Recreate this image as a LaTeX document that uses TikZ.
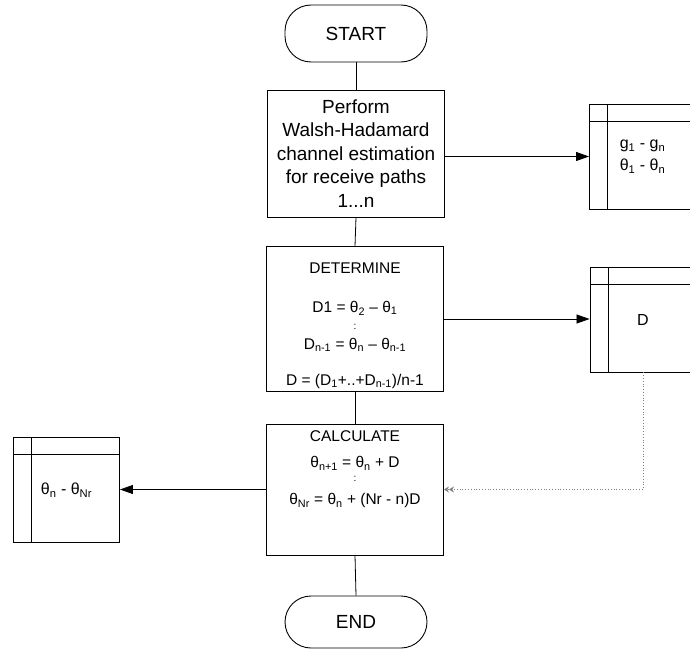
\documentclass[tikz,border=0pt]{standalone}
\usepackage{fontspec}
\setmainfont{Liberation Sans}
\usetikzlibrary{arrows.meta}
\newcommand{\lo}[1]{\textsubscript{#1}}
\newcommand{\vdotsmall}{{\fontsize{10}{12}\selectfont :}}

\begin{document}
\begin{tikzpicture}[
  x=1pt, y=-1pt,
  term/.style={draw, line width=0.9pt, rounded corners=26pt, minimum width=142pt,
               font=\fontsize{19}{23}\selectfont},
  proc/.style={draw, line width=0.9pt, minimum width=177pt, align=center, inner sep=3pt},
  store/.style={draw, line width=0.9pt, minimum width=106pt, minimum height=105pt,
                align=left, font=\fontsize{16}{22}\selectfont,
                path picture={
                  \draw[line width=0.9pt] ([xshift=18pt]path picture bounding box.north west)
                    -- ([xshift=18pt]path picture bounding box.south west);
                  \draw[line width=0.9pt] ([yshift=-17pt]path picture bounding box.north west)
                    -- ([yshift=-17pt]path picture bounding box.north east);}},
  link/.style={line width=0.8pt},
  flow/.style={-{Triangle[length=13pt, width=9pt]}, line width=0.8pt},
  feed/.style={-{Stealth[length=5pt, width=6pt]Stealth[length=5pt, width=6pt]},
               line width=0.8pt, draw=gray, dotted},
]
\useasboundingbox (0,0) rectangle (690,650);

% Terminals
\node[term, minimum height=57pt] (start) at (356,33.5) {START};
\node[term, minimum height=52pt] (end) at (356,622) {END};

% Process boxes
\node[proc, minimum height=127pt, font=\fontsize{19}{23.5}\selectfont] (est) at (356,153.5)
  {Perform\\ Walsh-Hadamard\\ channel estimation\\ for receive paths\\ 1...n};
\node[proc, minimum height=132pt, font=\fontsize{15.5}{18}\selectfont] (det) at (355,319)
  {\rule{0pt}{24pt}DETERMINE\\[21pt]
   D1 = θ\lo{2} – θ\lo{1}\\[-1pt]
   \vdotsmall\\[2pt]
   D\lo{n-1} = θ\lo{n} – θ\lo{n-1}\\[18pt]
   D = (D\lo{1}+..+D\lo{n-1})/n-1};
\node[proc, minimum height=131pt, font=\fontsize{15.5}{18}\selectfont] (calc) at (355,489.5)
  {CALCULATE\\[8pt]
   θ\lo{n+1} = θ\lo{n} + D\\[-4pt]
   \vdotsmall\\[5pt]
   θ\lo{Nr} = θ\lo{n} + (Nr - n)D\rule[-43pt]{0pt}{43pt}};

% Stores
\node[store] (gst) at (642.5,156.5) {g\lo{1} - g\lo{n}\\ θ\lo{1} - θ\lo{n}};
\node[store] (dst) at (643,319.5) {D};
\node[store] (tst) at (66.5,490) {θ\lo{n} - θ\lo{Nr}};

% Main line
\draw[link] (start.south) -- (est.north);
\draw[link] (est.south) -- (det.north);
\draw[link] (det.south) -- (calc.north);
\draw[link] (calc.south) -- (end.north);

% Outputs
\draw[flow] (est.east |- gst.west) -- (gst.west);
\draw[flow] (det.east) -- (det.east -| dst.west);
\draw[flow] (calc.west) -- (calc.west -| tst.east);
\draw[feed] (dst.south) |- (calc.east);

\end{tikzpicture}
\end{document}
